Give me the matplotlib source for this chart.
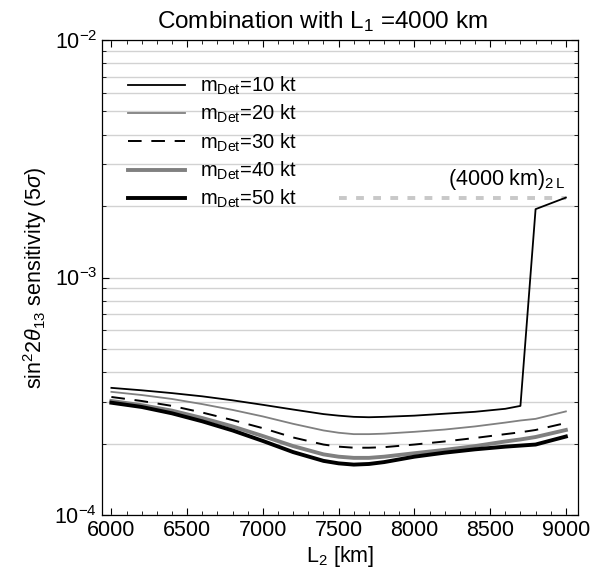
import matplotlib
matplotlib.use("Agg")
import matplotlib.pyplot as plt
from matplotlib.ticker import LogLocator, NullFormatter, MultipleLocator

plt.rcParams['font.family'] = ['Liberation Sans', 'DejaVu Sans']
plt.rcParams['mathtext.fontset'] = 'custom'
plt.rcParams['mathtext.rm'] = 'Liberation Sans'
plt.rcParams['mathtext.it'] = 'Liberation Sans:italic'
plt.rcParams['mathtext.bf'] = 'Liberation Sans:bold'

L2 = [6000, 6200, 6400, 6600, 6800, 7000, 7200, 7400, 7500, 7600, 7700, 7800,
      8000, 8200, 8400, 8600, 8700, 8800, 9000]
m10 = [3.43, 3.35, 3.26, 3.16, 3.04, 2.91, 2.78, 2.66, 2.62, 2.59, 2.58, 2.59,
       2.62, 2.67, 2.72, 2.80, 2.88, 19.4, 21.7]
m20 = [3.30, 3.20, 3.08, 2.93, 2.77, 2.60, 2.42, 2.27, 2.22, 2.19, 2.19, 2.20,
       2.24, 2.29, 2.36, 2.45, 2.50, 2.54, 2.73]
m30 = [3.14, 3.02, 2.88, 2.70, 2.51, 2.32, 2.12, 1.98, 1.94, 1.92, 1.92, 1.93,
       1.98, 2.04, 2.11, 2.19, 2.23, 2.28, 2.44]
m40 = [3.02, 2.90, 2.75, 2.56, 2.36, 2.15, 1.95, 1.80, 1.76, 1.74, 1.74, 1.76,
       1.82, 1.88, 1.95, 2.04, 2.08, 2.13, 2.28]
m50 = [2.97, 2.85, 2.68, 2.48, 2.27, 2.05, 1.84, 1.69, 1.65, 1.63, 1.64, 1.67,
       1.76, 1.83, 1.89, 1.94, 1.96, 1.98, 2.14]
scale = 1e-4
ref_L = [7500, 9000]
ref_val = [21.7, 21.7]

labels = [r'm$_{\mathrm{Det}}$=10 kt', r'm$_{\mathrm{Det}}$=20 kt', r'm$_{\mathrm{Det}}$=30 kt',
          r'm$_{\mathrm{Det}}$=40 kt', r'm$_{\mathrm{Det}}$=50 kt']
xticks = [6000, 6500, 7000, 7500, 8000, 8500, 9000]

fig = plt.figure(figsize=(5.94, 5.71), dpi=100)
ax = fig.add_axes([102/594, 1-515/571, (578-102)/594, (515-40)/571])

ax.set_yscale('log')
ax.set_ylim(1e-4, 1e-2)
ax.set_xlim(5938, 9080)

# horizontal grid
ax.yaxis.set_minor_locator(LogLocator(base=10, subs=range(2, 10)))
ax.yaxis.set_minor_formatter(NullFormatter())
ax.grid(True, which='both', axis='y', color='#d2d2d2', lw=1.0)
ax.set_axisbelow(True)

s = lambda v: [x*scale for x in v]
ax.plot(ref_L, s(ref_val), color='#c8c8c8', lw=2.8, ls=(0, (2.0, 2.4)))
styles = [dict(color='black', lw=1.3),
          dict(color='#808080', lw=1.3),
          dict(color='black', lw=1.4, ls=(0, (7, 5))),
          dict(color='#808080', lw=2.8),
          dict(color='black', lw=2.8)]
handles = []
for data, st, lab in zip([m10, m20, m30, m40, m50], styles, labels):
    h, = ax.plot(L2, s(data), label=lab, **st)
    handles.append(h)

ax.text(8995, 2.28e-3, r'(4000 km)$_{2\,\mathrm{L}}$', ha='right', va='bottom', fontsize=15.5)

leg = ax.legend(handles=handles, loc='upper left', bbox_to_anchor=(0.0, 0.982),
                frameon=False, fontsize=14.5, handlelength=2.8, handletextpad=0.75,
                labelspacing=0.3, borderaxespad=0.9)

ax.set_xticks(xticks)
ax.xaxis.set_minor_locator(MultipleLocator(100))
ax.tick_params(which='both', direction='in', top=True, right=True, labelsize=15.5)
ax.tick_params(which='major', length=5, width=0.8)
ax.tick_params(which='minor', length=3, width=0.6)
for sp in ax.spines.values():
    sp.set_linewidth(0.9)

fig.text(322/594, 1-28/571, r'Combination with L$_1$ =4000 km', fontsize=17.5,
         ha='center', va='baseline')
ax.set_xlabel(r'L$_2$ [km]', fontsize=15.5, labelpad=2)
ax.set_ylabel(r'sin$^2$2$\mathit{\theta}_{13}$ sensitivity (5$\mathit{\sigma}$)', fontsize=15.5, labelpad=4)

fig.savefig('out.png', dpi=100)
